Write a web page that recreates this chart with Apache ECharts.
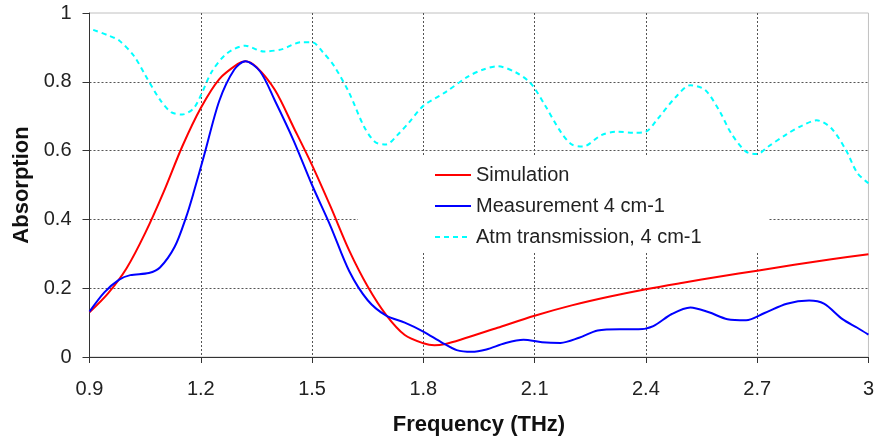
<!DOCTYPE html>
<html>
<head>
<meta charset="utf-8">
<script src="https://cdn.jsdelivr.net/npm/echarts@6/dist/echarts.min.js"></script>
<style>html,body{margin:0;padding:0;background:#fff}#c{width:877px;height:441px}</style>
</head>
<body>
<div id="c"></div>
<script>
const xTicks = [0.9, 1.2, 1.5, 1.8, 2.1, 2.4, 2.7, 3.0];
const yTicks = [0, 0.2, 0.4, 0.6, 0.8, 1];

const simX = [0.9,0.95,1.0,1.05,1.1,1.15,1.2,1.25,1.3,1.32,1.35,1.4,1.45,1.5,1.55,1.6,1.65,1.7,1.75,1.8,1.83,1.86,1.9,2.0,2.1,2.2,2.3,2.4,2.5,2.6,2.7,2.8,2.9,3.0];
const simY = [0.13,0.185,0.258,0.36,0.48,0.612,0.724,0.808,0.852,0.86,0.843,0.776,0.668,0.558,0.437,0.31,0.205,0.122,0.064,0.04,0.034,0.038,0.05,0.085,0.12,0.15,0.175,0.197,0.216,0.234,0.251,0.268,0.284,0.299];

const measX = [0.9,0.94,0.98,1.01,1.06,1.09,1.13,1.16,1.18,1.21,1.25,1.29,1.32,1.36,1.4,1.45,1.5,1.55,1.6,1.65,1.7,1.75,1.8,1.85,1.89,1.93,1.97,2.02,2.07,2.12,2.17,2.22,2.27,2.33,2.38,2.42,2.47,2.52,2.57,2.62,2.67,2.72,2.78,2.84,2.88,2.93,2.97,3.0];
const measY = [0.132,0.188,0.225,0.238,0.244,0.26,0.321,0.405,0.475,0.59,0.745,0.835,0.86,0.83,0.745,0.63,0.5,0.38,0.25,0.165,0.12,0.1,0.074,0.042,0.02,0.015,0.022,0.04,0.05,0.043,0.041,0.056,0.077,0.081,0.081,0.09,0.125,0.144,0.13,0.11,0.107,0.128,0.155,0.164,0.155,0.11,0.085,0.065];

const atmX = [0.91,0.95,0.98,1.02,1.05,1.09,1.12,1.15,1.18,1.2,1.23,1.27,1.32,1.37,1.42,1.47,1.5,1.53,1.56,1.6,1.64,1.67,1.7,1.73,1.76,1.8,1.86,1.92,1.96,2.0,2.05,2.09,2.13,2.17,2.2,2.23,2.28,2.32,2.37,2.4,2.43,2.48,2.52,2.56,2.6,2.63,2.67,2.7,2.73,2.78,2.82,2.86,2.9,2.94,2.97,3.0];
const atmY = [0.951,0.935,0.92,0.875,0.82,0.748,0.712,0.705,0.722,0.76,0.83,0.882,0.905,0.888,0.895,0.915,0.915,0.885,0.845,0.768,0.67,0.625,0.618,0.645,0.68,0.73,0.77,0.815,0.835,0.845,0.827,0.795,0.728,0.655,0.618,0.612,0.645,0.655,0.652,0.655,0.69,0.755,0.79,0.776,0.712,0.65,0.597,0.59,0.612,0.648,0.672,0.688,0.665,0.6,0.535,0.505];

const names = ['Simulation', 'Measurement 4 cm-1', 'Atm transmission, 4 cm-1'];
const pairs = (xs, ys) => xs.map((x, i) => [x, ys[i]]);

const FONT = '"Liberation Sans", Arial, sans-serif';
const chart = echarts.init(document.getElementById('c'), null, {renderer: 'canvas'});
chart.setOption({
  animation: false,
  backgroundColor: '#fff',
  grid: {left: 89.5, right: 7, top: 13, bottom: 84, show: true, borderColor: '#c0c0c0', borderWidth: 1, backgroundColor: 'transparent'},
  legend: {
    orient: 'vertical', left: 358, top: 155,
    padding: [10, 67, 6, 76],
    backgroundColor: '#fff',
    itemWidth: 36, itemHeight: 14, itemGap: 11,
    itemStyle: {opacity: 0},
    textStyle: {fontFamily: FONT, fontSize: 20, color: '#222'},
    data: names
  },
  xAxis: {
    type: 'value', min: xTicks[0], max: xTicks[xTicks.length - 1], interval: 0.3,
    name: 'Frequency (THz)', nameLocation: 'middle', nameGap: 57,
    nameTextStyle: {fontFamily: FONT, fontSize: 22, fontWeight: 'bold', color: '#111'},
    axisLine: {show: true, onZero: false, lineStyle: {color: '#333', width: 1}},
    axisTick: {show: true, length: 6, lineStyle: {color: '#333'}},
    axisLabel: {fontFamily: FONT, fontSize: 20, color: '#222', margin: 22,
      formatter: v => { const t = xTicks.find(k => Math.abs(k - v) < 1e-6); return t === undefined ? '' : (t === 3 ? '3' : String(t)); }},
    splitLine: {show: true, showMinLine: false, showMaxLine: false, lineStyle: {color: '#555', type: [2, 2], width: 1}}
  },
  yAxis: {
    type: 'value', min: yTicks[0], max: yTicks[yTicks.length - 1], interval: 0.2,
    name: 'Absorption', nameLocation: 'middle', nameGap: 50,
    nameTextStyle: {fontFamily: FONT, fontSize: 22, fontWeight: 'bold', color: '#111'},
    axisLine: {show: true, onZero: false, lineStyle: {color: '#333', width: 1}},
    axisTick: {show: true, length: 7, lineStyle: {color: '#333'}},
    axisLabel: {fontFamily: FONT, fontSize: 20, color: '#222', margin: 18,
      formatter: v => { const t = yTicks.find(k => Math.abs(k - v) < 1e-6); return t === undefined ? '' : String(t); }},
    splitLine: {show: true, showMinLine: false, showMaxLine: false, lineStyle: {color: '#555', type: [2, 2], width: 1}}
  },
  series: [
    {name: names[0], type: 'line', data: pairs(simX, simY), smooth: 0.3, symbol: 'none', z: 3,
      lineStyle: {color: '#ff0000', width: 2}, itemStyle: {color: '#ff0000'}},
    {name: names[1], type: 'line', data: pairs(measX, measY), smooth: 0.3, symbol: 'none', z: 4,
      lineStyle: {color: '#0000ff', width: 2}, itemStyle: {color: '#0000ff'}},
    {name: names[2], type: 'line', data: pairs(atmX, atmY), smooth: 0.3, symbol: 'none', z: 2,
      lineStyle: {color: '#00ffff', width: 2, type: [5, 4]}, itemStyle: {color: '#00ffff'}}
  ]
});
</script>
</body>
</html>
